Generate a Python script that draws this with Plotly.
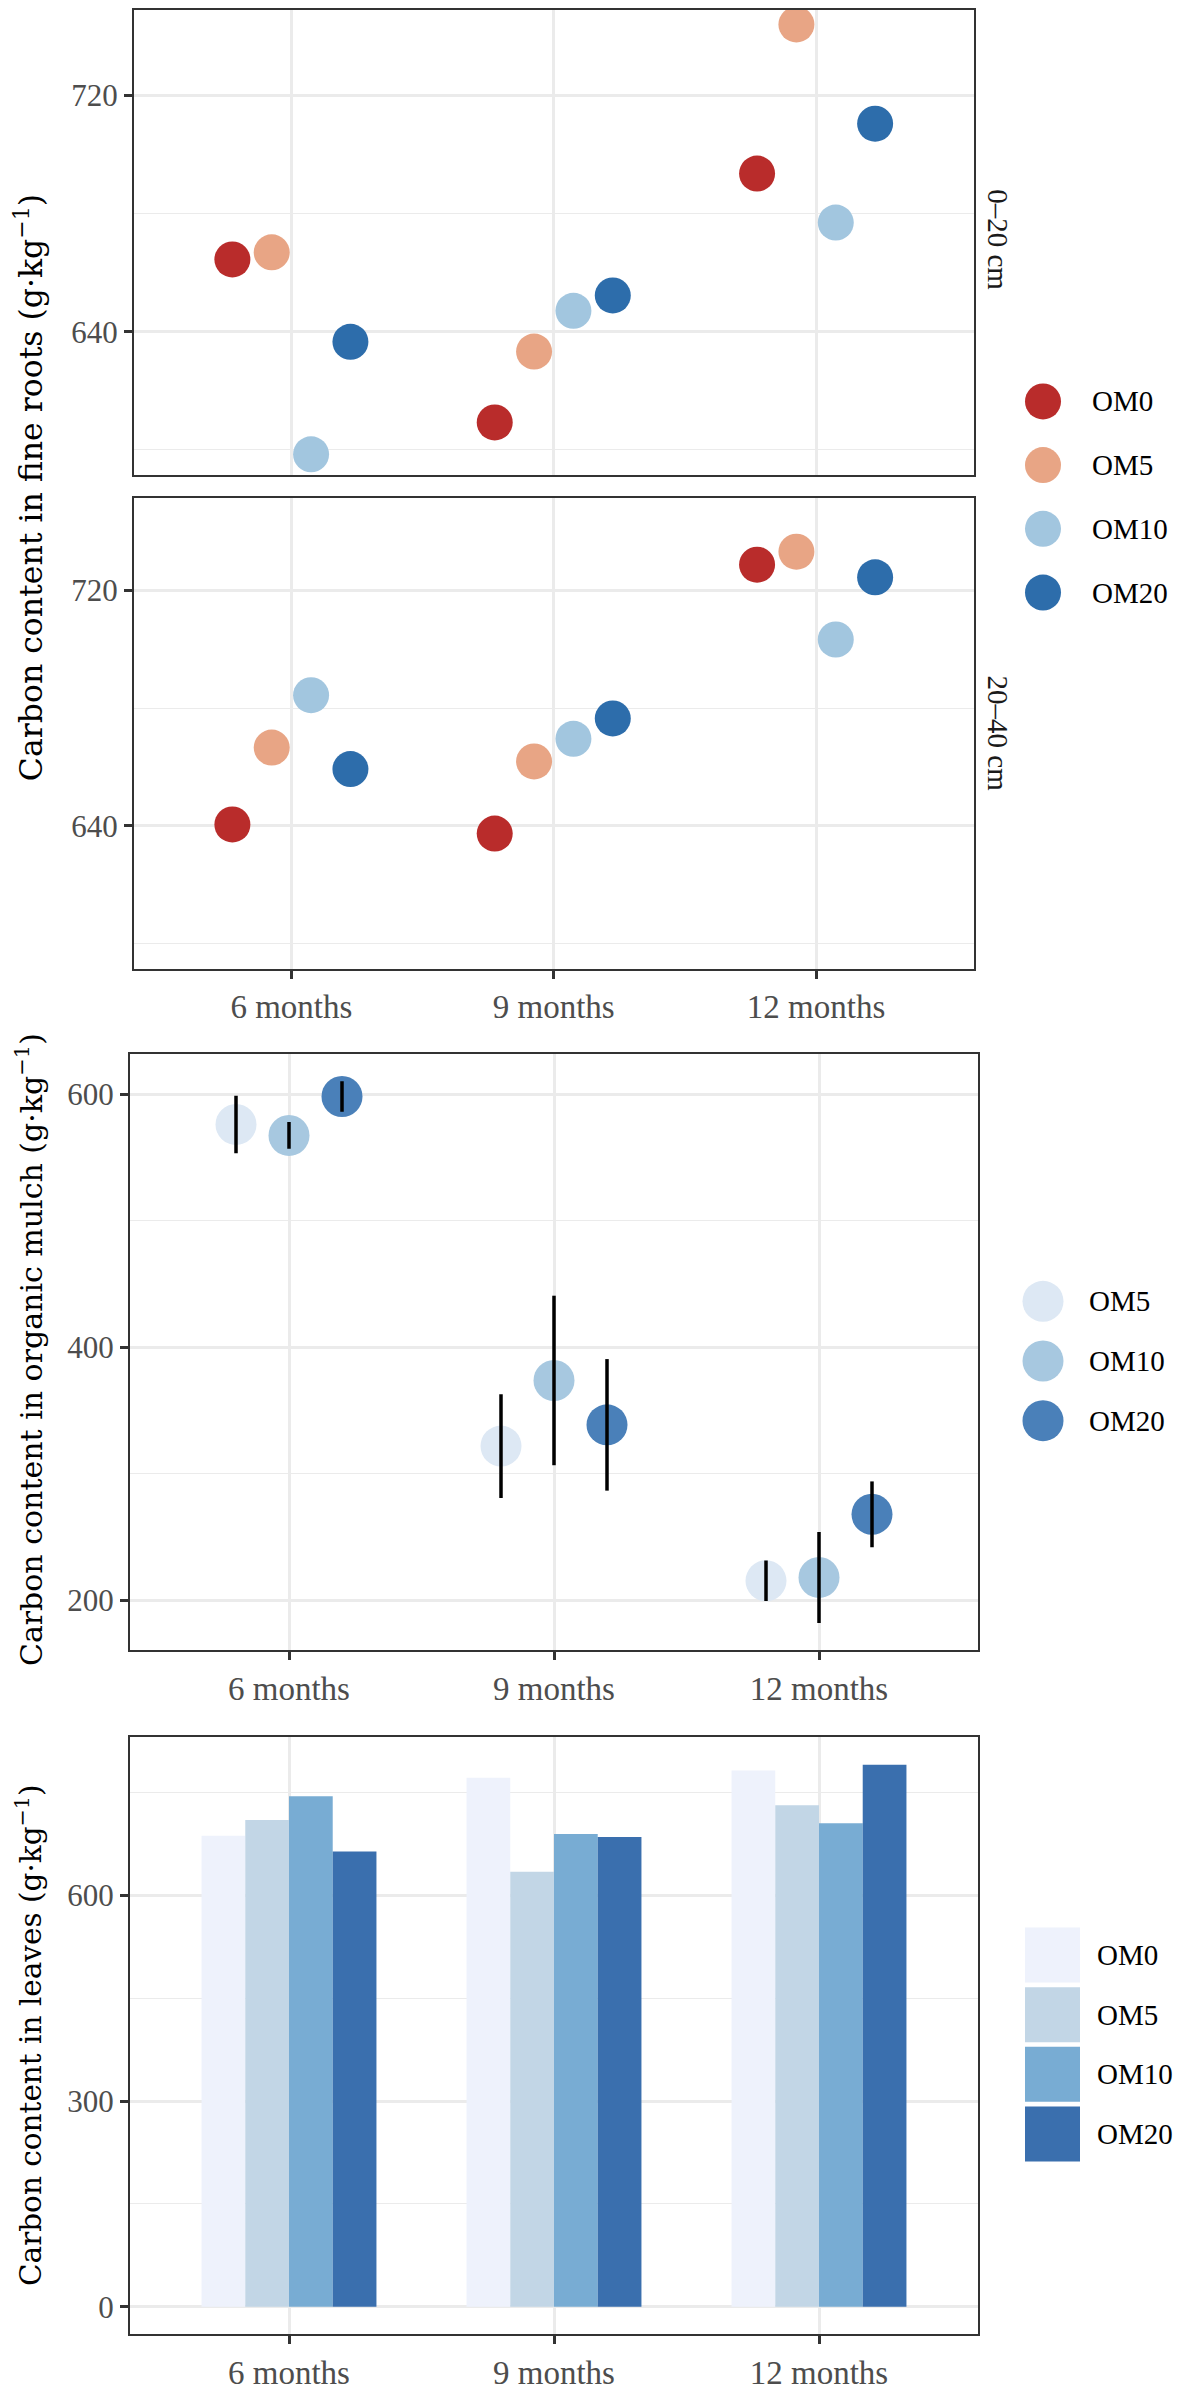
import plotly.graph_objects as go

# ---------------- data ----------------
months = ["6 months", "9 months", "12 months"]

depths = ["0–20 cm", "20–40 cm"]
root_groups = ["OM0", "OM5", "OM10", "OM20"]
root_colors = ["#b92c2b", "#e8a585", "#a2c6df", "#2d6dab"]
roots_0_20 = [
    [664.5, 609.3, 693.6],   # OM0
    [666.9, 633.3, 744.1],   # OM5
    [598.5, 647.1, 677.0],   # OM10
    [636.6, 652.3, 710.5],   # OM20
]
roots_20_40 = [
    [640.5, 637.4, 728.7],
    [666.6, 661.9, 733.1],
    [684.4, 669.6, 703.3],
    [659.3, 676.5, 724.4],
]

mulch_groups = ["OM5", "OM10", "OM20"]
mulch_colors = ["#dde8f4", "#a7c8e0", "#4a80b9"]
mulch_mean = [
    [576.3, 322.0, 215.6],
    [567.6, 373.9, 218.2],
    [598.4, 338.8, 268.1],
]
mulch_err = [
    [22.7, 41.0, 16.0],
    [10.6, 67.0, 36.0],
    [12.0, 52.0, 26.0],
]

leaf_groups = ["OM0", "OM5", "OM10", "OM20"]
leaf_colors = ["#eef2fc", "#c2d6e6", "#78acd3", "#3a6fae"]
leaves = [
    [686.6, 771.1, 781.6],
    [709.5, 634.1, 731.1],
    [744.3, 689.2, 704.9],
    [663.6, 684.6, 790.2],
]

# ---------------- geometry helpers ----------------
# the page body has an 8 px margin, so the figure starts at (8, 8)
OFF = 8
W, H = 1181 - OFF, 2391 - OFF
def clamp(v):
    return min(1.0, max(0.0, v))
def xd(a, b):
    return [clamp((a - OFF) / W), clamp((b - OFF) / W)]
def yd(top, bottom):
    return [clamp(1 - (bottom - OFF) / H), clamp(1 - (top - OFF) / H)]
def px(x):
    return (x - OFF) / W
def py(y):
    return 1 - (y - OFF) / H

SERIF = "Liberation Serif"
YTICKFONT = dict(family=SERIF, size=31, color="#4d4d4d")
XTICKFONT = dict(family=SERIF, size=33, color="#4d4d4d")
GRID = "#ebebeb"
BORDER = "#333333"

fig = go.Figure()

# ---------------- panel 1: fine roots (two facets) ----------------
for data, xa, ya in ((roots_0_20, "x", "y"), (roots_20_40, "x2", "y2")):
    for g, c, vals in zip(root_groups, root_colors, data):
        fig.add_trace(go.Scatter(
            x=months, y=vals, mode="markers", name=g, orientation="v",
            offsetgroup=g, marker=dict(size=36, color=c, line=dict(width=0)),
            xaxis=xa, yaxis=ya, showlegend=False, cliponaxis=False))

# ---------------- panel 2: organic mulch ----------------
for g, c, vals in zip(mulch_groups, mulch_colors, mulch_mean):
    fig.add_trace(go.Scatter(
        x=months, y=vals, mode="markers", name=g, orientation="v",
        offsetgroup=g, marker=dict(size=41, color=c, line=dict(width=0)),
        xaxis="x3", yaxis="y3", showlegend=False, cliponaxis=False))
for g, vals, err in zip(mulch_groups, mulch_mean, mulch_err):
    fig.add_trace(go.Scatter(
        x=months, y=vals, mode="markers", name=g, orientation="v",
        offsetgroup=g, marker=dict(size=2, color="rgba(0,0,0,0)"),
        error_y=dict(type="data", array=err, visible=True, width=0,
                     thickness=3.5, color="black"),
        xaxis="x3", yaxis="y3", showlegend=False, cliponaxis=False,
        hoverinfo="skip"))

# ---------------- panel 3: leaves (bars) ----------------
for g, c, vals in zip(leaf_groups, leaf_colors, leaves):
    fig.add_trace(go.Bar(
        x=months, y=vals, name=g, offsetgroup=g,
        marker=dict(color=c, line=dict(width=0)),
        xaxis="x4", yaxis="y4", showlegend=False))

# ---------------- custom legends (drawn on hidden axes) ----------------
legend_specs = [
    ("x5", "y5", root_groups, root_colors, "circle", 36, (1043, 1095), (370.7, 627.0)),
    ("x6", "y6", mulch_groups, mulch_colors, "circle", 41, (1043, 1092), (1278.0, 1458.0)),
    ("x7", "y7", leaf_groups, leaf_colors, "square", 55, (1052.5, 1100), (1935.5, 2175.5)),
]
annotations = []
for xa, ya, names, cols, sym, size, _, _ in legend_specs:
    fig.add_trace(go.Scatter(
        x=[0] * len(names), y=names, mode="markers",
        marker=dict(symbol=sym, size=size, color=cols, line=dict(width=0)),
        xaxis=xa, yaxis=ya, showlegend=False, cliponaxis=False,
        hoverinfo="skip"))
    for n in names:
        annotations.append(dict(
            x=1, y=n, xref=xa, yref=ya, text=n, showarrow=False,
            xanchor="left", yanchor="middle", xshift=-4, borderpad=0,
            font=dict(family=SERIF, size=29, color="black")))

# ---------------- axes ----------------
def xaxis_cfg(dom, anchor, labels=True):
    return dict(
        domain=dom, anchor=anchor, type="category", categoryorder="array",
        categoryarray=months, range=[-0.6, 2.6],
        showgrid=True, gridcolor=GRID, gridwidth=2.5, zeroline=False,
        showline=True, mirror=True, linecolor=BORDER, linewidth=2,
        ticks="outside" if labels else "", ticklen=8, tickwidth=2.5,
        tickcolor=BORDER, showticklabels=labels, tickfont=XTICKFONT)

def yaxis_cfg(dom, anchor, rng, dtick):
    return dict(
        domain=dom, anchor=anchor, range=rng, tick0=0, dtick=dtick,
        showgrid=True, gridcolor=GRID, gridwidth=2.5, zeroline=False,
        showline=True, mirror=True, linecolor=BORDER, linewidth=2,
        ticks="outside", ticklen=8, tickwidth=2.5, tickcolor=BORDER,
        tickfont=YTICKFONT,
        minor=dict(dtick=dtick / 2, tick0=0, showgrid=True,
                   gridcolor=GRID, gridwidth=1.3, ticks=""))

p1x = xd(134, 973.5)
p23x = xd(130, 978)
layout_axes = dict(
    xaxis=xaxis_cfg(p1x, "y", labels=False),
    yaxis=yaxis_cfg(yd(9, 476.7), "x", [591.5, 749.0], 80),
    xaxis2=xaxis_cfg(p1x, "y2"),
    yaxis2=yaxis_cfg(yd(500, 973.5), "x2", [591.5, 751.3], 80),
    xaxis3=xaxis_cfg(p23x, "y3"),
    yaxis3=yaxis_cfg(yd(1059, 1659), "x3", [160.6, 632.1], 200),
    xaxis4=xaxis_cfg(p23x, "y4"),
    yaxis4=yaxis_cfg(yd(1746.7, 2346.7), "x4", [-39.5, 829.8], 300),
)
for xa, ya, names, _, _, _, (cx, tx), (top, bot) in legend_specs:
    xk = "xaxis" + xa[1:]
    yk = "yaxis" + ya[1:]
    layout_axes[xk] = dict(domain=xd(cx, tx), anchor=ya, range=[0, 1],
                           visible=False, fixedrange=True)
    layout_axes[yk] = dict(domain=yd(top, bot), anchor=xa, type="category",
                           categoryorder="array", categoryarray=names,
                           range=[len(names) - 0.5, -0.5], visible=False,
                           fixedrange=True)

# ---------------- titles and strip labels ----------------
titles = [
    ("Carbon content in fine roots (g·kg<sup>−1</sup>)", 490, 31.5),
    ("Carbon content in organic mulch (g·kg<sup>−1</sup>)", 1357, 30),
    ("Carbon content in leaves (g·kg<sup>−1</sup>)", 2046, 29.5),
]
for t, yc, fs in titles:
    annotations.append(dict(
        x=px(29), y=py(yc), xref="paper", yref="paper", text=t,
        textangle=-90, showarrow=False, xanchor="center", yanchor="middle",
        font=dict(family="DejaVu Serif", size=fs, color="black")))
for d, yc in zip(depths, [239.5, 736.8]):
    annotations.append(dict(
        x=px(998), y=py(yc), xref="paper", yref="paper", text=d,
        textangle=90, showarrow=False, xanchor="center", yanchor="middle",
        font=dict(family=SERIF, size=29, color="#1a1a1a")))

fig.update_layout(
    width=W, height=H, margin=dict(l=0, r=0, t=0, b=0),
    paper_bgcolor="white", plot_bgcolor="white", showlegend=False,
    barmode="group", bargap=0.34, bargroupgap=0,
    scattermode="group", scattergap=0.4,
    annotations=annotations, **layout_axes)

fig.write_html("out.html")
